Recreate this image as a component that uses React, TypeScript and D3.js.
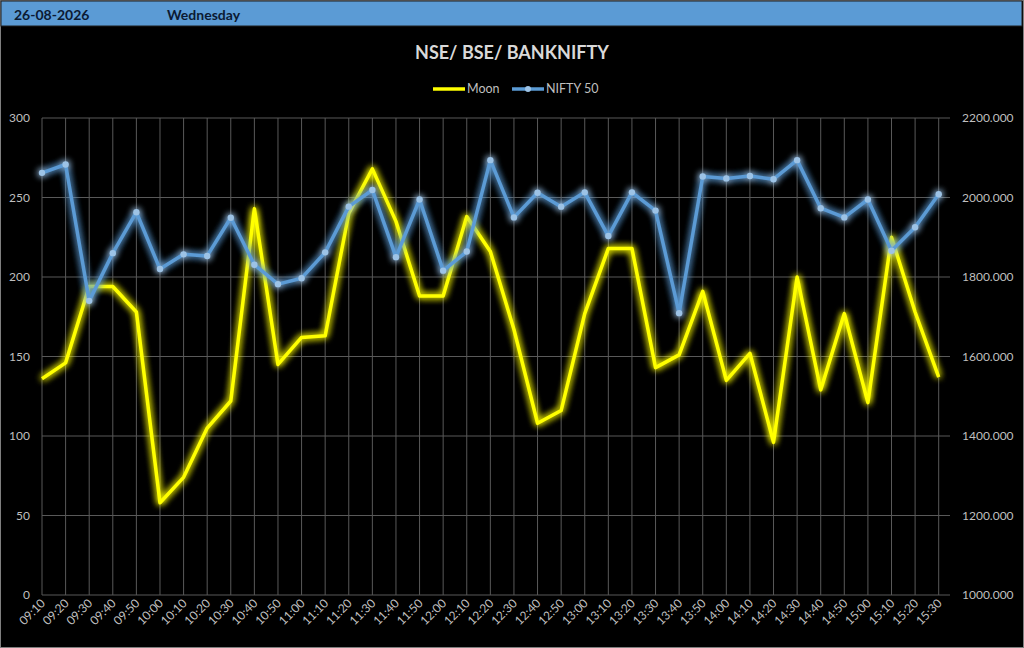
import * as d3 from "d3"

const times = [
  "09:10", "09:20", "09:30", "09:40", "09:50", "10:00", "10:10", "10:20", "10:30", "10:40",
  "10:50", "11:00", "11:10", "11:20", "11:30", "11:40", "11:50", "12:00", "12:10", "12:20",
  "12:30", "12:40", "12:50", "13:00", "13:10", "13:20", "13:30", "13:40", "13:50", "14:00",
  "14:10", "14:20", "14:30", "14:40", "14:50", "15:00", "15:10", "15:20", "15:30",
]

const moon = [
  136, 146, 194, 194, 178, 58, 74, 105, 122, 243,
  145, 162, 163, 240, 268, 235, 188, 188, 238, 216,
  167, 108, 116, 177, 218, 218, 143, 151, 191, 135,
  152, 96, 200, 129, 177, 121, 225, 178, 137,
]

const nifty = [
  2062, 2083, 1740, 1860, 1963, 1820, 1857, 1853, 1949, 1831,
  1782, 1797, 1862, 1977, 2019, 1850, 1995, 1816, 1864, 2094,
  1950, 2012, 1977, 2013, 1903, 2013, 1967, 1709, 2053, 2048,
  2054, 2046, 2094, 1973, 1950, 1995, 1866, 1925, 2008,
]

const leftTicks = [0, 50, 100, 150, 200, 250, 300]
const rightTicks = [1000, 1200, 1400, 1600, 1800, 2000, 2200]

const headerDate = "26-08-2026"
const headerDay = "Wednesday"
const title = "NSE/ BSE/ BANKNIFTY"
const seriesNames = ["Moon", "NIFTY 50"]

const W = 1024
const H = 648
const plot = { left: 42, right: 950, top: 118, bottom: 595 }
const font = "Lato, 'Open Sans', sans-serif"
const axisColor = "#bfbfbf"
const gridColor = "#595959"
const yellow = "#ffff00"
const blue = "#5b9bd5"

const App = () => {
  const x = d3.scalePoint<string>().domain(times).range([plot.left, 938.7])
  const yL = d3.scaleLinear().domain([0, 300]).range([plot.bottom, plot.top])
  const yR = d3.scaleLinear().domain([1000, 2200]).range([plot.bottom, plot.top])

  const moonLine = d3
    .line<number>()
    .x((_, i) => x(times[i]) as number)
    .y((d) => yL(d))
  const niftyLine = d3
    .line<number>()
    .x((_, i) => x(times[i]) as number)
    .y((d) => yR(d))

  return (
    <div style={{ position: "absolute", left: 0, top: 0 }}>
      <svg width={W} height={H} style={{ display: "block", fontFamily: font }}>
        <defs>
          <filter id="glowY" x="-20%" y="-20%" width="140%" height="140%">
            <feGaussianBlur in="SourceGraphic" stdDeviation="3.5" result="b" />
            <feMerge>
              <feMergeNode in="b" />
              <feMergeNode in="b" />
              <feMergeNode in="SourceGraphic" />
            </feMerge>
          </filter>
          <filter id="glowB" x="-20%" y="-20%" width="140%" height="140%">
            <feGaussianBlur in="SourceGraphic" stdDeviation="3.5" result="b" />
            <feMerge>
              <feMergeNode in="b" />
              <feMergeNode in="b" />
              <feMergeNode in="SourceGraphic" />
            </feMerge>
          </filter>
        </defs>

        <rect x={0} y={0} width={W} height={H} fill="#000" />
        <rect x={0.5} y={0.5} width={W - 1} height={H - 1} fill="none" stroke="#7f7f7f" />

        {/* header band */}
        <rect x={1} y={1} width={W - 3} height={25} fill={blue} stroke="#1f1f1f" />
        <text x={14} y={20} fontSize={14} fontWeight={700} fill="#0b1a33">{headerDate}</text>
        <text x={167} y={20} fontSize={14} fontWeight={700} fill="#0b1a33">{headerDay}</text>

        <text x={512} y={59} textAnchor="middle" fontSize={18} fontWeight={700} fill="#d9d9d9">
          {title}
        </text>

        {/* legend */}
        <g fontSize={12.5} fill={axisColor}>
          <line x1={433} x2={465} y1={89} y2={89} stroke={yellow} strokeWidth={3.5} />
          <text x={467} y={93}>{seriesNames[0]}</text>
          <line x1={512} x2={544} y1={89} y2={89} stroke={blue} strokeWidth={3.5} />
          <circle cx={528} cy={89} r={3} fill="#9dc3e6" />
          <text x={546} y={93}>{seriesNames[1]}</text>
        </g>

        {/* grid */}
        <g stroke={gridColor} strokeWidth={1}>
          {leftTicks.map((t) => (
            <line key={t} x1={plot.left} x2={plot.right} y1={yL(t)} y2={yL(t)} />
          ))}
          {times.map((t) => (
            <line key={t} x1={x(t)} x2={x(t)} y1={plot.top} y2={plot.bottom} />
          ))}
        </g>

        {/* left axis */}
        <g fontSize={12} fill={axisColor}>
          {leftTicks.map((t) => (
            <text key={t} x={30} y={yL(t) + 4} textAnchor="end">{t}</text>
          ))}
        </g>

        {/* right axis */}
        <g fontSize={12} fill={axisColor}>
          {rightTicks.map((t) => (
            <text key={t} x={962} y={yR(t) + 4}>{d3.format(".3f")(t)}</text>
          ))}
        </g>

        {/* x labels */}
        <g fontSize={12} fill={axisColor}>
          {times.map((t) => (
            <text
              key={t}
              transform={`translate(${(x(t) as number) + 4},${plot.bottom + 9}) rotate(-45)`}
              textAnchor="end"
            >
              {t}
            </text>
          ))}
        </g>

        {/* series */}
        <path
          d={moonLine(moon) ?? ""}
          fill="none"
          stroke={yellow}
          strokeWidth={3.5}
          strokeLinejoin="round"
          filter="url(#glowY)"
        />
        <g filter="url(#glowB)">
          <path
            d={niftyLine(nifty) ?? ""}
            fill="none"
            stroke={blue}
            strokeWidth={3.5}
            strokeLinejoin="round"
          />
          {nifty.map((v, i) => (
            <circle key={i} cx={x(times[i])} cy={yR(v)} r={3.2} fill="#9dc3e6" />
          ))}
        </g>
      </svg>
    </div>
  )
}

export default App
